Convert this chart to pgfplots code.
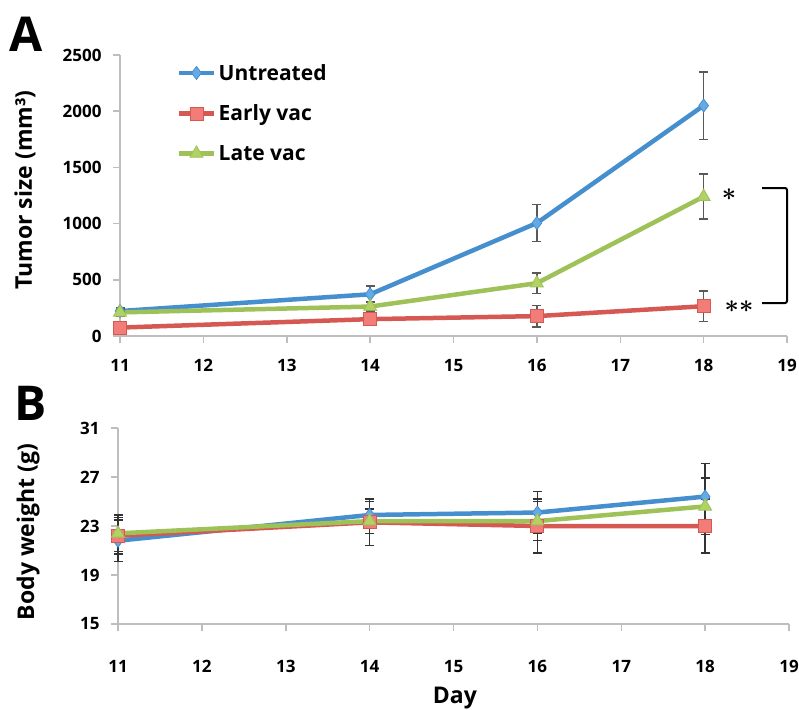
\documentclass[border=0pt]{standalone}
\usepackage{fontspec}
\setmainfont{Open Sans}
\usepackage{pgfplots}
\usepackage{pgfplotstable}
\pgfplotsset{compat=1.18}
\definecolor{blueL}{RGB}{100,170,230}
\definecolor{blueD}{RGB}{70,143,207}
\definecolor{redL}{RGB}{242,125,120}
\definecolor{redD}{RGB}{214,88,82}
\definecolor{greenL}{RGB}{178,210,100}
\definecolor{greenD}{RGB}{158,194,88}
\definecolor{axgray}{RGB}{190,190,190}

\pgfplotstableread{
x y e
11 222 30
14 371 75
16 1005 165
18 2050 300
}\Utop
\pgfplotstableread{
x y e
11 75 20
14 150 40
16 177 95
18 265 135
}\Etop
\pgfplotstableread{
x y e
11 210 30
14 262 40
16 470 90
18 1240 200
}\Ltop
\pgfplotstableread{
x y e
11 21.8 1.7
14 23.9 1.1
16 24.1 1.7
18 25.4 2.7
}\Ubot
\pgfplotstableread{
x y e
11 22.2 1.5
14 23.3 1.9
16 23.0 2.2
18 23.0 2.2
}\Ebot
\pgfplotstableread{
x y e
11 22.4 1.5
14 23.4 1.0
16 23.4 1.6
18 24.6 2.3
}\Lbot

\pgfplotsset{
  myax/.style={
    scale only axis,
    axis lines*=left,
    axis line style={axgray, line width=1.5pt, -},
    tick style={axgray, line width=1.5pt},
    tick align=outside,
    major tick length=7pt,
    xmin=11, xmax=19,
    xtick={11,...,19},
    clip=false,
    /pgf/number format/assume math mode=true,
    /pgf/number format/1000 sep={},
    ticklabel style={font=\fontsize{17}{17}\selectfont\bfseries},
    xticklabel style={yshift=-13pt},
    yticklabel style={xshift=-8pt},
    label style={font=\fontsize{23}{23}\selectfont\bfseries},
    every axis plot/.append style={line width=4.5pt},
    error bars/error bar style={line width=1.5pt, color=black!65},
    error bars/error mark options={rotate=90, mark size=4.5pt, line width=1.5pt, color=black!65},
  },
  ustyle/.style={blueD, mark=diamond*, mark size=6.5pt, mark options={fill=blueL, draw=blueD, line width=0.8pt}},
  estyle/.style={redD, mark=square*, mark size=6.5pt, mark options={fill=redL, draw=redD, line width=0.8pt}},
  lstyle/.style={greenD, mark=triangle*, mark size=7.5pt, mark options={fill=greenL, draw=greenD, line width=0.8pt}},
}

\begin{document}
\begin{tikzpicture}
\useasboundingbox (0pt,0pt) rectangle (799pt,-709pt);

\begin{axis}[myax,
  at={(120pt,-336pt)}, anchor=south west,
  width=667pt, height=281pt,
  ymin=0, ymax=2500, ytick={0,500,...,2500},
  ylabel={Tumor size (mm³)},
  ylabel style={at={(axis description cs:-0.1424,0.52)}, anchor=center},
  legend style={at={(axis description cs:0.0855,0.975)}, anchor=north west,
    draw=none, fill=none, inner sep=0pt, row sep=19pt,
    font=\fontsize{21}{21}\selectfont\bfseries},
  legend cell align=left,
  legend image code/.code={\draw[mark repeat=2,mark phase=2] plot coordinates {(0pt,0pt) (17pt,0pt) (35pt,0pt)};},
]
\addplot[ustyle, error bars/.cd, y dir=both, y explicit] table[x=x, y=y, y error=e]{\Utop};
\addlegendentry{Untreated}
\addplot[estyle, error bars/.cd, y dir=both, y explicit] table[x=x, y=y, y error=e]{\Etop};
\addlegendentry{Early vac}
\addplot[lstyle, error bars/.cd, y dir=both, y explicit] table[x=x, y=y, y error=e]{\Ltop};
\addlegendentry{Late vac}
\end{axis}

\begin{axis}[myax,
  at={(118pt,-624pt)}, anchor=south west,
  width=671pt, height=196pt,
  ymin=15, ymax=31, ytick={15,19,...,31},
  xticklabel style={yshift=-13pt},
  error bars/error bar style={line width=1.5pt, color=black!80},
  error bars/error mark options={rotate=90, mark size=4.5pt, line width=1.5pt, color=black!80},
  ylabel={Body weight (g)},
  ylabel style={at={(axis description cs:-0.134,0.469)}, anchor=center},
  xlabel={Day},
  xlabel style={at={(axis description cs:0.502,-0.378)}, anchor=center},
]
\addplot[ustyle, error bars/.cd, y dir=both, y explicit] table[x=x, y=y, y error=e]{\Ubot};
\addplot[estyle, error bars/.cd, y dir=both, y explicit] table[x=x, y=y, y error=e]{\Ebot};
\addplot[lstyle, error bars/.cd, y dir=both, y explicit] table[x=x, y=y, y error=e]{\Lbot};
\end{axis}

\node[anchor=base west, inner sep=0pt, font=\fontsize{48}{48}\selectfont\bfseries] at (9pt,-52pt) {A};
\node[anchor=base west, inner sep=0pt, font=\fontsize{48}{48}\selectfont\bfseries] at (14pt,-420pt) {B};

\draw[line width=2pt, rounded corners=2pt] (762pt,-188pt) -- (787pt,-188pt) -- (787pt,-303pt) -- (762pt,-303pt);
\node[inner sep=0pt, font=\fontsize{32}{32}\selectfont\boldmath] at (729pt,-195pt) {$\ast$};
\node[inner sep=0pt, font=\fontsize{32}{32}\selectfont\boldmath] at (739pt,-307pt) {$\ast\ast$};
\node[inner sep=0pt, font=\fontsize{32}{32}\selectfont\boldmath] at (805pt,-246pt) {$\ast$};
\end{tikzpicture}
\end{document}
